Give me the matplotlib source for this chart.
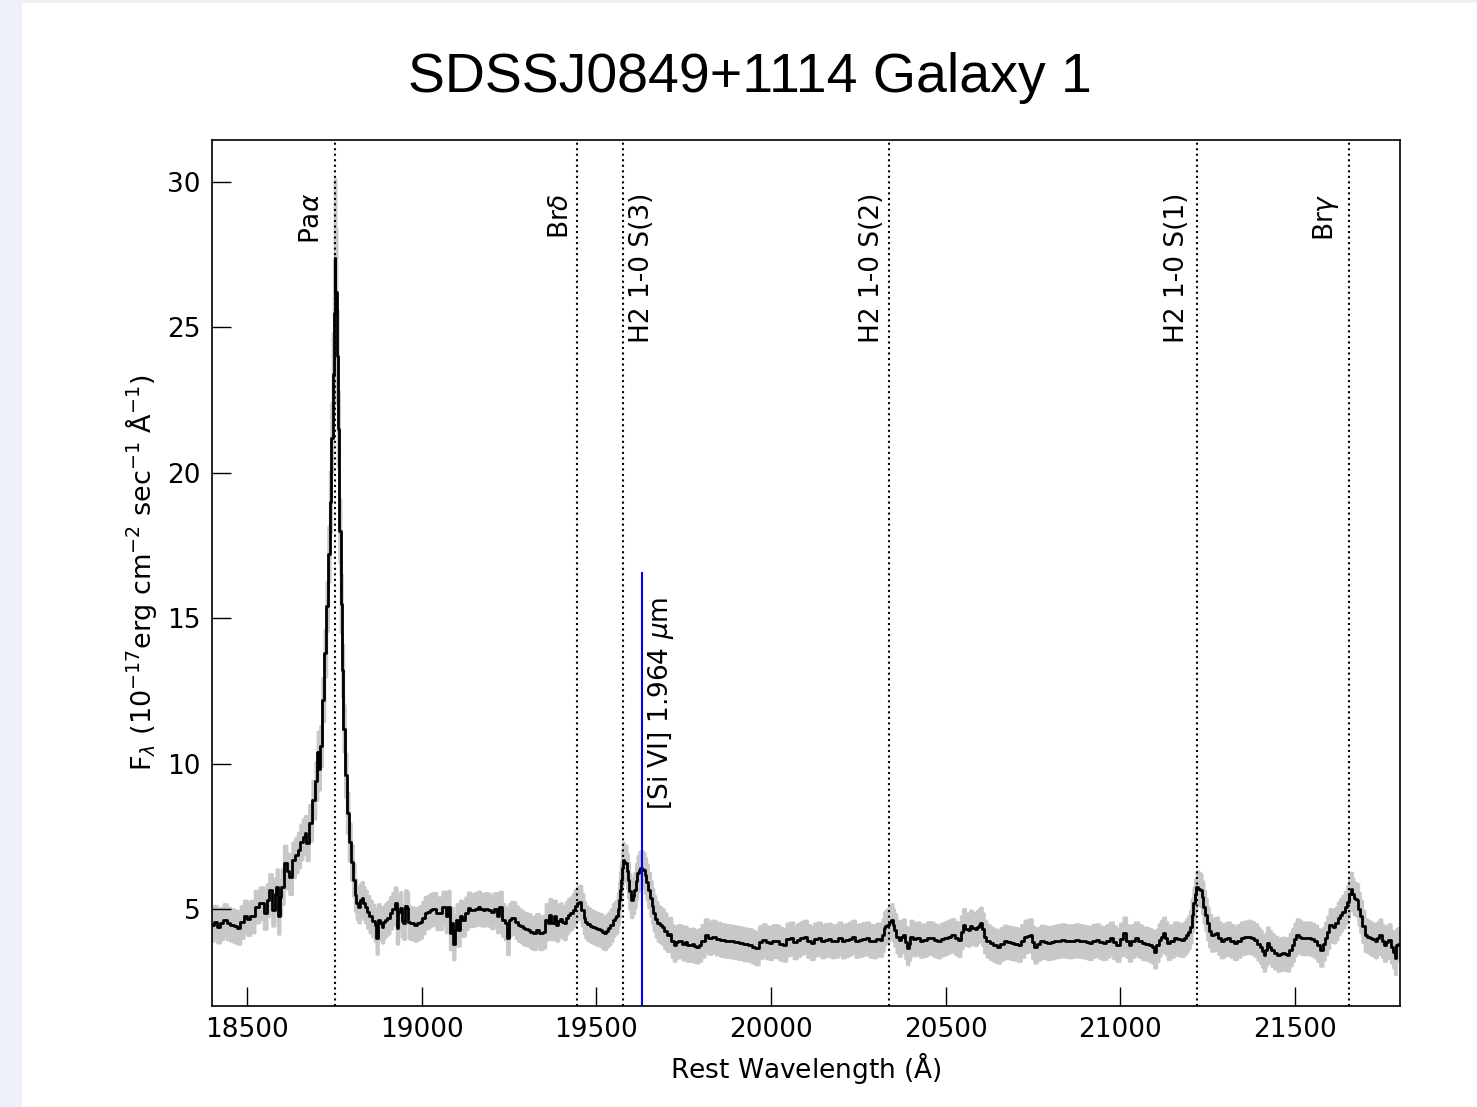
import matplotlib
matplotlib.use("Agg")
import matplotlib.pyplot as plt
from matplotlib.patches import Rectangle

# Spectrum (rest wavelength in Angstrom, flux in 1e-17 units)
wave = [
    18400, 18410, 18419, 18428, 18438, 18447, 18457, 18467, 18477, 18486,
    18496, 18505, 18515, 18529, 18543, 18553, 18560, 18567, 18577, 18582,
    18587, 18591, 18596, 18601, 18610, 18617, 18625, 18634, 18642, 18649,
    18656, 18663, 18668, 18673, 18682, 18692, 18700, 18704, 18707, 18712,
    18719, 18725, 18730, 18735, 18739, 18743, 18747, 18750, 18752, 18755,
    18758, 18762, 18766, 18770, 18774, 18778, 18783, 18788, 18794, 18801,
    18806, 18811, 18816, 18821, 18826, 18830, 18835, 18840, 18847, 18854,
    18862, 18869, 18872, 18878, 18883, 18888, 18893, 18897, 18905, 18912,
    18919, 18926, 18931, 18936, 18940, 18945, 18950, 18955, 18960, 18964,
    18969, 18976, 18983, 18990, 18998, 19005, 19012, 19019, 19027, 19035,
    19040, 19045, 19054, 19064, 19073, 19078, 19083, 19088, 19092, 19097,
    19102, 19107, 19112, 19121, 19128, 19136, 19143, 19150, 19157, 19164,
    19171, 19179, 19186, 19193, 19202, 19212, 19219, 19226, 19234, 19241,
    19247, 19253, 19259, 19265, 19272, 19279, 19286, 19293, 19300, 19308,
    19315, 19322, 19332, 19341, 19351, 19358, 19363, 19368, 19375, 19381,
    19389, 19394, 19399, 19405, 19410, 19416, 19422, 19429, 19435, 19441,
    19446, 19454, 19461, 19466, 19470, 19478, 19485, 19492, 19499, 19506,
    19513, 19519, 19525, 19531, 19537, 19544, 19550, 19555, 19559, 19563,
    19566, 19568, 19571, 19574, 19577, 19581, 19585, 19589, 19592, 19596,
    19601, 19606, 19611, 19615, 19620, 19624, 19628, 19632, 19636, 19641,
    19645, 19651, 19657, 19661, 19666, 19672, 19678, 19684, 19690, 19697,
    19705, 19712, 19718, 19724, 19730, 19736, 19743, 19750, 19756, 19762,
    19769, 19776, 19782, 19789, 19796, 19805, 19815, 19825, 19835, 19848,
    19861, 19875, 19888, 19900, 19914, 19927, 19940, 19950, 19960, 19970,
    19980, 19990, 19999, 20009, 20019, 20029, 20039, 20049, 20059, 20069,
    20079, 20088, 20098, 20108, 20118, 20128, 20138, 20148, 20158, 20167,
    20177, 20187, 20197, 20207, 20217, 20227, 20236, 20246, 20256, 20266,
    20276, 20286, 20296, 20306, 20316, 20321, 20325, 20330, 20335, 20341,
    20346, 20350, 20355, 20362, 20368, 20375, 20381, 20386, 20391, 20396,
    20401, 20411, 20421, 20431, 20441, 20451, 20460, 20470, 20480, 20490,
    20500, 20510, 20520, 20530, 20539, 20546, 20552, 20559, 20566, 20572,
    20579, 20586, 20592, 20597, 20601, 20606, 20612, 20621, 20631, 20641,
    20651, 20661, 20671, 20681, 20691, 20701, 20710, 20720, 20730, 20737,
    20743, 20750, 20756, 20766, 20776, 20786, 20796, 20806, 20816, 20825,
    20835, 20845, 20855, 20865, 20875, 20885, 20895, 20905, 20914, 20924,
    20934, 20944, 20954, 20964, 20974, 20983, 20993, 21003, 21013, 21020,
    21026, 21036, 21046, 21056, 21066, 21076, 21086, 21093, 21099, 21106,
    21112, 21118, 21125, 21131, 21138, 21148, 21158, 21168, 21178, 21185,
    21191, 21196, 21201, 21206, 21211, 21215, 21220, 21225, 21230, 21235,
    21240, 21245, 21250, 21256, 21263, 21270, 21276, 21283, 21290, 21300,
    21309, 21319, 21329, 21339, 21349, 21359, 21369, 21378, 21388, 21395,
    21402, 21407, 21412, 21417, 21421, 21428, 21434, 21444, 21454, 21460,
    21467, 21474, 21480, 21487, 21494, 21500, 21507, 21513, 21520, 21530,
    21540, 21550, 21559, 21567, 21575, 21582, 21588, 21595, 21601, 21607,
    21612, 21618, 21625, 21631, 21638, 21645, 21652, 21657, 21661, 21665,
    21669, 21673, 21678, 21683, 21688, 21695, 21702, 21710, 21717, 21724,
    21731, 21738, 21744, 21750, 21757, 21763, 21770, 21777, 21783, 21787,
    21790, 21796,
]

flux = [
    4.45, 4.56, 4.39, 4.5, 4.62, 4.5, 4.45, 4.4, 4.35, 4.55,
    4.74, 4.65, 4.74, 5.08, 5.2, 4.86, 5.3, 5.65, 4.97, 5.5,
    5.77, 4.74, 5.4, 5.77, 6.58, 6.3, 6.11, 6.69, 6.85, 7.03,
    7.3, 7.49, 7.6, 7.27, 7.96, 8.75, 9.4, 10.4, 9.8, 10.6,
    12.2, 13.8, 15.4, 17.2, 19.0, 21.2, 23.4, 25.5, 27.4, 26.2,
    24.0, 21.5, 18.0, 15.5, 13.2, 11.2, 9.6, 8.3, 7.3, 6.6,
    6.0, 5.48, 5.2, 5.08, 5.3, 5.38, 5.2, 5.08, 4.9, 4.74,
    4.6, 4.45, 4.0, 4.62, 4.5, 4.39, 4.55, 4.62, 4.7, 4.86,
    5.0, 5.2, 4.35, 4.9, 5.03, 4.6, 4.51, 5.1, 5.03, 4.55,
    4.51, 4.5, 4.45, 4.5, 4.56, 4.7, 4.86, 4.9, 4.97, 5.0,
    5.0, 4.85, 4.85, 5.05, 4.74, 5.08, 4.16, 4.5, 3.81, 4.28,
    4.62, 4.28, 4.74, 4.62, 4.85, 5.02, 4.95, 4.97, 5.0, 5.05,
    4.98, 4.97, 5.0, 4.97, 4.88, 5.0, 4.74, 5.05, 4.62, 4.5,
    3.99, 4.62, 4.7, 4.68, 4.55, 4.45, 4.4, 4.33, 4.3, 4.28,
    4.2, 4.16, 4.28, 4.16, 4.22, 4.62, 4.5, 4.8, 4.5, 4.74,
    4.45, 4.6, 4.65, 4.55, 4.5, 4.7, 4.8, 4.85, 4.97, 5.1,
    5.2, 5.25, 4.97, 4.7, 4.56, 4.48, 4.42, 4.38, 4.33, 4.3,
    4.28, 4.2, 4.16, 4.25, 4.33, 4.45, 4.62, 4.7, 4.74, 5.0,
    5.31, 5.65, 5.99, 6.4, 6.68, 6.6, 6.57, 6.3, 5.99, 5.6,
    5.31, 5.45, 5.65, 5.95, 6.22, 6.35, 6.39, 6.38, 6.33, 6.15,
    5.93, 5.65, 5.36, 5.1, 4.85, 4.65, 4.5, 4.45, 4.39, 4.25,
    4.1, 4.15, 3.9, 3.76, 3.85, 3.9, 3.88, 3.8, 3.85, 3.75,
    3.76, 3.78, 3.72, 3.7, 3.76, 3.9, 4.1, 4.0, 4.05, 3.98,
    3.93, 3.9, 3.88, 3.85, 3.82, 3.78, 3.76, 3.7, 3.64, 3.85,
    3.93, 3.85, 3.82, 3.9, 3.88, 3.8, 3.76, 3.95, 3.99, 3.85,
    3.93, 4.0, 4.05, 3.9, 3.82, 3.95, 3.99, 3.88, 3.93, 3.95,
    3.88, 3.9, 3.99, 3.88, 3.93, 3.98, 4.05, 3.9, 3.93, 3.97,
    3.99, 3.9, 3.88, 3.95, 3.93, 4.1, 4.33, 4.4, 4.45, 4.55,
    4.62, 4.45, 4.28, 4.05, 3.93, 4.05, 4.1, 3.85, 3.64, 3.8,
    4.05, 3.95, 3.99, 3.9, 3.93, 4.0, 3.99, 3.92, 3.88, 3.95,
    3.99, 4.05, 4.1, 4.0, 3.93, 4.2, 4.45, 4.3, 4.28, 4.4,
    4.33, 4.3, 4.39, 4.45, 4.5, 4.3, 4.05, 3.9, 3.82, 3.75,
    3.7, 3.8, 3.88, 3.85, 3.82, 3.8, 3.76, 3.9, 4.05, 4.08,
    4.1, 3.85, 3.7, 3.8, 3.88, 3.85, 3.82, 3.85, 3.88, 3.9,
    3.93, 3.9, 3.88, 3.9, 3.93, 3.9, 3.88, 3.85, 3.82, 3.9,
    3.93, 3.85, 3.82, 3.9, 3.99, 3.85, 3.76, 3.95, 4.16, 3.9,
    3.76, 3.9, 3.99, 3.9, 3.82, 3.8, 3.76, 3.7, 3.53, 3.75,
    3.93, 4.05, 4.16, 4.0, 3.82, 3.9, 3.99, 3.95, 3.93, 4.0,
    4.1, 4.2, 4.39, 4.8, 5.19, 5.5, 5.75, 5.7, 5.65, 5.4,
    5.08, 4.8, 4.5, 4.25, 4.1, 4.13, 4.16, 4.0, 3.88, 3.95,
    3.99, 3.9, 3.82, 3.9, 3.99, 4.02, 4.05, 4.0, 3.93, 3.8,
    3.7, 3.55, 3.42, 3.6, 3.82, 3.7, 3.59, 3.5, 3.42, 3.45,
    3.47, 3.45, 3.42, 3.6, 3.76, 3.95, 4.1, 4.05, 3.99, 3.99,
    3.99, 3.95, 3.88, 3.75, 3.59, 3.8, 3.99, 4.2, 4.45, 4.42,
    4.39, 4.5, 4.68, 4.8, 4.91, 5.05, 5.25, 5.5, 5.7, 5.5,
    5.36, 5.35, 5.31, 5.0, 4.74, 4.4, 4.1, 4.05, 3.99, 3.95,
    3.88, 4.0, 4.1, 3.9, 3.76, 3.85, 3.93, 3.7, 3.53, 3.3,
    3.76, 3.8,
]

# 1-sigma uncertainty (half width of the grey band)
err = [
    0.55, 0.55, 0.55, 0.55, 0.55, 0.55, 0.55, 0.55, 0.55, 0.55,
    0.55, 0.55, 0.55, 0.55, 0.55, 0.55, 0.55, 0.55, 0.55, 0.55,
    0.6, 0.6, 0.6, 0.6, 0.6, 0.6, 0.6, 0.6, 0.6, 0.6,
    0.6, 0.6, 0.6, 0.6, 0.62, 0.65, 0.65, 0.7, 0.7, 0.7,
    0.75, 0.8, 0.85, 0.95, 1.05, 1.2, 1.4, 1.8, 2.7, 2.2,
    1.6, 1.3, 1.1, 1.0, 0.9, 0.8, 0.75, 0.7, 0.65, 0.6,
    0.55, 0.55, 0.55, 0.55, 0.55, 0.55, 0.55, 0.55, 0.55, 0.55,
    0.55, 0.55, 0.55, 0.55, 0.55, 0.55, 0.55, 0.55, 0.55, 0.55,
    0.55, 0.55, 0.55, 0.55, 0.55, 0.55, 0.55, 0.55, 0.55, 0.55,
    0.55, 0.55, 0.55, 0.55, 0.55, 0.55, 0.55, 0.55, 0.55, 0.55,
    0.55, 0.55, 0.55, 0.55, 0.55, 0.55, 0.55, 0.55, 0.55, 0.55,
    0.55, 0.55, 0.55, 0.55, 0.55, 0.55, 0.55, 0.55, 0.55, 0.55,
    0.55, 0.55, 0.55, 0.55, 0.55, 0.55, 0.55, 0.55, 0.55, 0.55,
    0.55, 0.55, 0.55, 0.55, 0.55, 0.55, 0.55, 0.55, 0.55, 0.55,
    0.55, 0.55, 0.55, 0.55, 0.55, 0.55, 0.55, 0.55, 0.55, 0.55,
    0.55, 0.55, 0.55, 0.55, 0.55, 0.55, 0.55, 0.55, 0.55, 0.55,
    0.55, 0.55, 0.55, 0.55, 0.55, 0.55, 0.55, 0.55, 0.55, 0.55,
    0.55, 0.55, 0.55, 0.55, 0.55, 0.55, 0.55, 0.55, 0.55, 0.55,
    0.6, 0.6, 0.6, 0.6, 0.6, 0.6, 0.6, 0.6, 0.6, 0.6,
    0.6, 0.6, 0.6, 0.6, 0.6, 0.6, 0.6, 0.6, 0.6, 0.6,
    0.6, 0.6, 0.6, 0.6, 0.6, 0.6, 0.6, 0.6, 0.6, 0.6,
    0.55, 0.55, 0.55, 0.55, 0.55, 0.55, 0.55, 0.55, 0.55, 0.55,
    0.55, 0.55, 0.55, 0.55, 0.55, 0.55, 0.55, 0.55, 0.55, 0.55,
    0.55, 0.55, 0.55, 0.55, 0.55, 0.55, 0.55, 0.55, 0.55, 0.55,
    0.55, 0.55, 0.55, 0.55, 0.55, 0.55, 0.55, 0.55, 0.55, 0.55,
    0.55, 0.55, 0.55, 0.55, 0.55, 0.55, 0.55, 0.55, 0.55, 0.55,
    0.55, 0.55, 0.55, 0.55, 0.55, 0.55, 0.55, 0.55, 0.55, 0.55,
    0.55, 0.55, 0.55, 0.55, 0.55, 0.55, 0.55, 0.55, 0.55, 0.55,
    0.55, 0.55, 0.55, 0.55, 0.55, 0.55, 0.55, 0.55, 0.55, 0.55,
    0.55, 0.55, 0.55, 0.55, 0.55, 0.55, 0.55, 0.55, 0.55, 0.55,
    0.55, 0.55, 0.55, 0.55, 0.55, 0.55, 0.55, 0.55, 0.55, 0.55,
    0.55, 0.55, 0.55, 0.55, 0.55, 0.55, 0.55, 0.55, 0.55, 0.55,
    0.55, 0.55, 0.55, 0.55, 0.55, 0.55, 0.55, 0.55, 0.55, 0.55,
    0.55, 0.55, 0.55, 0.55, 0.55, 0.55, 0.55, 0.55, 0.55, 0.55,
    0.55, 0.55, 0.55, 0.55, 0.55, 0.55, 0.55, 0.55, 0.55, 0.55,
    0.55, 0.55, 0.55, 0.55, 0.55, 0.55, 0.55, 0.55, 0.55, 0.55,
    0.55, 0.55, 0.55, 0.55, 0.55, 0.55, 0.55, 0.55, 0.55, 0.55,
    0.55, 0.55, 0.55, 0.55, 0.55, 0.55, 0.55, 0.55, 0.55, 0.55,
    0.55, 0.55, 0.55, 0.55, 0.55, 0.55, 0.55, 0.55, 0.55, 0.55,
    0.55, 0.55, 0.55, 0.55, 0.55, 0.55, 0.55, 0.55, 0.55, 0.55,
    0.55, 0.55, 0.55, 0.55, 0.55, 0.55, 0.55, 0.55, 0.55, 0.55,
    0.55, 0.55, 0.55, 0.55, 0.55, 0.55, 0.55, 0.55, 0.55, 0.55,
    0.55, 0.55, 0.55, 0.55, 0.55, 0.55, 0.55, 0.55, 0.55, 0.55,
    0.55, 0.55, 0.55, 0.55, 0.55, 0.55, 0.55, 0.55, 0.55, 0.55,
    0.55, 0.55, 0.55, 0.55, 0.55, 0.55, 0.55, 0.55, 0.55, 0.55,
    0.55, 0.55, 0.55, 0.55, 0.55, 0.55, 0.55, 0.55, 0.55, 0.55,
    0.55, 0.55, 0.55, 0.55, 0.55, 0.55, 0.55, 0.55, 0.55, 0.55,
    0.55, 0.55,
]

# Emission lines marked with dotted lines
line_names = [r"Pa$\alpha$", r"Br$\delta$", "H2 1-0 S(3)", "H2 1-0 S(2)",
              "H2 1-0 S(1)", r"Br$\gamma$"]
line_waves = [18751, 19446, 19576, 20338, 21218, 21655]
label_dx = [-16, -12, 14, -12, -14, -17]   # label offset in points

coronal_name = r"[Si VI] 1.964 $\mu$m"
coronal_wave = 19630

xticks = [18500, 19000, 19500, 20000, 20500, 21000, 21500]
yticks = [5, 10, 15, 20, 25, 30]

lo = [f - e for f, e in zip(flux, err)]
hi = [f + e for f, e in zip(flux, err)]

fig = plt.figure(figsize=(14.77, 11.07), dpi=100)
fig.patch.set_facecolor("#eef0f9")
fig.patches.append(Rectangle((22 / 1477, 0), 1, 1 - 3 / 1107, transform=fig.transFigure,
                             facecolor="white", edgecolor="none", zorder=-10))

ax = fig.add_axes([0.1435, 0.0912, 0.8044, 0.7823])
ax.set_zorder(1)

ax.fill_between(wave, lo, hi, step="mid", facecolor="#c8c8c8",
                edgecolor="#c8c8c8", lw=2)
ax.plot(wave, flux, color="k", lw=2.0, drawstyle="steps-mid")

for name, w, dx in zip(line_names, line_waves, label_dx):
    ax.axvline(w, color="k", ls=":", lw=1.5)
    ax.annotate(name, xy=(w, 0.9388), xycoords=("data", "axes fraction"),
                xytext=(dx, 0), textcoords="offset points",
                rotation=90, ha="center", va="top", fontsize=19)

ax.axvline(coronal_wave, ymax=0.5, color="blue", lw=1.5)
ax.annotate(coronal_name, xy=(coronal_wave, 0.2263), xycoords=("data", "axes fraction"),
            xytext=(14, 0), textcoords="offset points",
            rotation=90, ha="center", va="bottom", fontsize=19)

ax.set_xlim(18400, 21800)
ax.set_ylim(1.66, 31.44)
ax.set_xticks(xticks)
ax.set_yticks(yticks)
ax.tick_params(direction="in", length=14, width=1, labelsize=19, pad=8)
for s in ax.spines.values():
    s.set_linewidth(1.2)

ax.set_xlabel(r"Rest Wavelength ($\rm\AA$)", fontsize=19, labelpad=5)
ax.set_ylabel(r"F$_\lambda$ (10$^{-17}$erg cm$^{-2}$ sec$^{-1}$ $\rm\AA^{-1}$)",
              fontsize=19.5, labelpad=6)

fig.text(750 / 1477, 1 - 52 / 1107, "SDSSJ0849+1114 Galaxy 1", ha="center", va="top",
         fontsize=40, family="Liberation Sans", zorder=2)

fig.savefig("out.png", dpi=100)
